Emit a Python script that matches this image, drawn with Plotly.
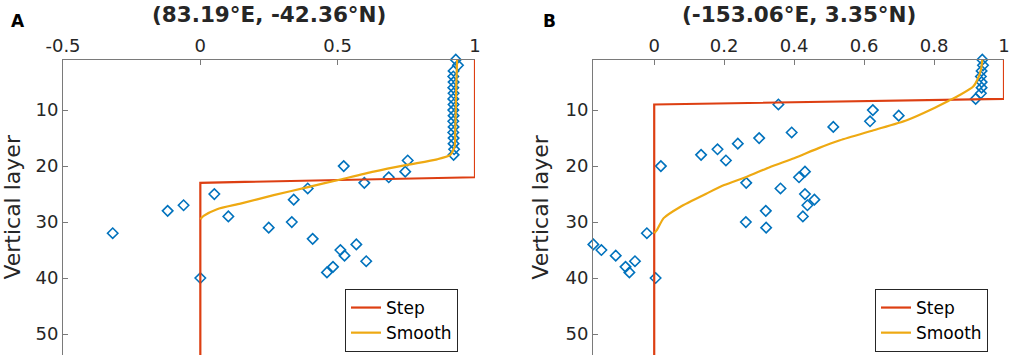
import plotly.graph_objects as go

# ---------------- data ----------------
layers = [1, 2, 3, 4, 5, 6, 7, 8, 9, 10, 11, 12, 13, 14, 15, 16, 17, 18, 19, 20,
          21, 22, 23, 24, 25, 26, 27, 28, 29, 30, 31, 32, 33, 34, 35, 36, 37, 38, 39, 40]

a_values = [0.930, 0.938, 0.922, 0.921, 0.922, 0.921, 0.922, 0.921, 0.922, 0.921,
            0.922, 0.921, 0.922, 0.921, 0.922, 0.922, 0.924, 0.922, 0.755, 0.522,
            0.746, 0.686, 0.597, 0.391, 0.051, 0.340, -0.061, -0.119, 0.102, 0.333,
            0.249, -0.319, 0.409, 0.568, 0.510, 0.525, 0.604, 0.483, 0.461, 0.000]

b_values = [0.938, 0.940, 0.936, 0.934, 0.936, 0.936, 0.934, 0.919, 0.355, 0.625,
            0.699, 0.617, 0.512, 0.393, 0.300, 0.239, 0.181, 0.134, 0.205, 0.019,
            0.431, 0.414, 0.263, 0.361, 0.431, 0.458, 0.438, 0.319, 0.425, 0.262,
            0.320, -0.021, -0.176, -0.174, -0.151, -0.110, -0.055, -0.082, -0.071, 0.004]

a_step_x = [1, 1, 0, 0]
a_step_layer = [1, 22, 23, 54]
b_step_x = [1, 1, 0, 0]
b_step_layer = [1, 8, 9, 54]

a_smooth_x = [0.935, 0.932, 0.930, 0.928, 0.926, 0.910, 0.862, 0.752, 0.631, 0.510,
              0.388, 0.267, 0.146, 0.061, 0.012, 0.000]
a_smooth_layer = [1, 5, 10, 14, 16.5, 18, 18.8, 19.8, 21, 22.4,
                  23.8, 25.2, 26.7, 27.7, 28.9, 29.5]

b_smooth_x = [0.938, 0.935, 0.928, 0.912, 0.874, 0.846, 0.798, 0.722, 0.627, 0.531,
              0.470, 0.400, 0.330, 0.265, 0.200, 0.150, 0.074, 0.027, 0.008, 0.000]
b_smooth_layer = [1, 2.5, 4, 5.8, 7.3, 8.2, 9.7, 11.8, 13.6, 15.4,
                  16.8, 18.6, 20.2, 21.9, 23.4, 24.9, 27.3, 29.3, 31.4, 32]

titles = ["(83.19°E, -42.36°N)", "(-153.06°E, 3.35°N)"]
panel_labels = ["A", "B"]
a_xticks = [-0.5, 0, 0.5, 1]
a_xticktext = ["-0.5", "0", "0.5", "1"]
b_xticks = [0, 0.2, 0.4, 0.6, 0.8, 1]
b_xticktext = ["0", "0.2", "0.4", "0.6", "0.8", "1"]
yticks = [10, 20, 30, 40, 50]

# ---------------- styles ----------------
FONT = "DejaVu Sans"
BLUE = "#0072BD"
RED = "#DD3F12"
GOLD = "#EEA912"
AXC = "#7a7a7a"
TXT = "#262626"

fig = go.Figure()

panels = [
    dict(vals=a_values, sx=a_step_x, sl=a_step_layer, mx=a_smooth_x, ml=a_smooth_layer,
         xa="x", ya="y", leg="legend"),
    dict(vals=b_values, sx=b_step_x, sl=b_step_layer, mx=b_smooth_x, ml=b_smooth_layer,
         xa="x2", ya="y2", leg="legend2"),
]

for p in panels:
    fig.add_trace(go.Scatter(x=p["vals"], y=layers, mode="markers", xaxis=p["xa"], yaxis=p["ya"],
                             marker=dict(symbol="diamond-open", size=8, color=BLUE,
                                         line=dict(width=1.6, color=BLUE)),
                             showlegend=False, cliponaxis=False))
    fig.add_trace(go.Scatter(x=p["sx"], y=p["sl"], mode="lines", name="Step",
                             xaxis=p["xa"], yaxis=p["ya"], legend=p["leg"],
                             line=dict(color=RED, width=2.2)))
    fig.add_trace(go.Scatter(x=p["mx"], y=p["ml"], mode="lines", name="Smooth",
                             xaxis=p["xa"], yaxis=p["ya"], legend=p["leg"],
                             line=dict(color=GOLD, width=2.2, shape="spline", smoothing=0.6)))

W, H = 1013, 355
top_px = 59.7
ydom_top = 1 - top_px / H

common_x = dict(side="top", showline=True, linecolor=AXC, linewidth=1, ticks="inside",
                ticklen=5, tickcolor=AXC, showgrid=False, zeroline=False, automargin=False,
                tickfont=dict(family=FONT, size=18, color=TXT))
common_y = dict(showline=True, linecolor=AXC, linewidth=1, ticks="inside", ticklen=5,
                tickcolor=AXC, showgrid=False, zeroline=False, range=[53.75, 1.0],
                automargin=False,
                tickvals=yticks, ticktext=[str(v) for v in yticks],
                tickfont=dict(family=FONT, size=18, color=TXT),
                title=dict(text="Vertical layer", font=dict(family=FONT, size=22, color=TXT),
                           standoff=10))

legend_common = dict(bgcolor="white", bordercolor=TXT, borderwidth=1,
                     font=dict(family=FONT, size=17, color="black"),
                     xanchor="left", yanchor="top", tracegroupgap=0, itemwidth=30)

fig.update_layout(
    width=W, height=H,
    margin=dict(l=0, r=0, t=0, b=0),
    paper_bgcolor="white", plot_bgcolor="white",
    xaxis=dict(common_x, domain=[63 / W, 475 / W], range=[-0.5, 1], anchor="y",
               tickvals=a_xticks, ticktext=a_xticktext),
    yaxis=dict(common_y, domain=[0, ydom_top], anchor="x"),
    xaxis2=dict(common_x, domain=[593 / W, 1004 / W], range=[-0.175, 1], anchor="y2",
                tickvals=b_xticks, ticktext=b_xticktext),
    yaxis2=dict(common_y, domain=[0, ydom_top], anchor="x2"),
    legend=dict(legend_common, x=345 / W, y=1 - 289 / H),
    legend2=dict(legend_common, x=875 / W, y=1 - 289 / H),
    annotations=[
        dict(text="<b>" + titles[0] + "</b>", x=269 / W, y=1 - 15 / H, xref="paper", yref="paper",
             showarrow=False, font=dict(family=FONT, size=21.5, color=TXT), xanchor="center", yanchor="middle"),
        dict(text="<b>" + titles[1] + "</b>", x=798.5 / W, y=1 - 15 / H, xref="paper", yref="paper",
             showarrow=False, font=dict(family=FONT, size=21.5, color=TXT), xanchor="center", yanchor="middle"),
        dict(text="<b>" + panel_labels[0] + "</b>", x=18 / W, y=1 - 21 / H, xref="paper", yref="paper",
             showarrow=False, font=dict(family=FONT, size=17, color="black"), xanchor="center", yanchor="middle"),
        dict(text="<b>" + panel_labels[1] + "</b>", x=549 / W, y=1 - 21 / H, xref="paper", yref="paper",
             showarrow=False, font=dict(family=FONT, size=17, color="black"), xanchor="center", yanchor="middle"),
    ],
)

fig.write_html("out.html",
               config={"displayModeBar": False},
               post_script="document.body.style.margin='0';document.body.style.padding='0';"
                           "document.body.style.overflow='hidden';")
